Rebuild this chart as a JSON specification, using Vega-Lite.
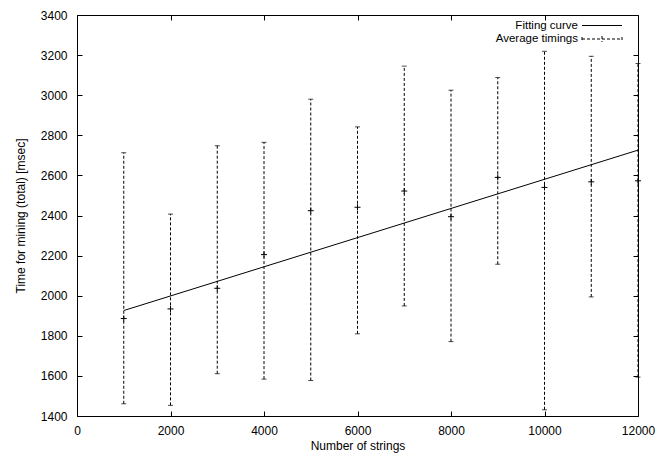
{
  "$schema": "https://vega.github.io/schema/vega-lite/v6.json",
  "width": 561,
  "height": 401,
  "autosize": "none",
  "padding": {"left": 77, "top": 15, "right": 18, "bottom": 41},
  "background": "white",
  "config": {
    "view": {"stroke": "black", "strokeWidth": 1},
    "font": "Liberation Sans",
    "axis": {
      "grid": false,
      "domain": false,
      "labelFlush": false,
      "tickColor": "black",
      "tickSize": -5,
      "tickWidth": 1,
      "labelColor": "black",
      "labelFontSize": 12,
      "labelFont": "Liberation Sans",
      "titleFontSize": 12,
      "titleFontWeight": "normal",
      "titleColor": "black",
      "titleFont": "Liberation Sans"
    },
    "legend": {
      "orient": "none",
      "labelAlign": "right",
      "labelOffset": -44.5,
      "symbolSize": 1600,
      "symbolStrokeWidth": 1,
      "symbolStrokeColor": "black",
      "labelFontSize": 11.5,
      "labelFont": "Liberation Sans",
      "labelColor": "black",
      "padding": 0
    }
  },
  "datasets": {
    "timings": [
      {"n": 1000, "lo": 1461, "mean": 1886, "hi": 2713, "series": "Average timings"},
      {"n": 2000, "lo": 1453, "mean": 1934, "hi": 2407, "series": "Average timings"},
      {"n": 3000, "lo": 1611, "mean": 2037, "hi": 2748, "series": "Average timings"},
      {"n": 4000, "lo": 1584, "mean": 2205, "hi": 2765, "series": "Average timings"},
      {"n": 5000, "lo": 1577, "mean": 2424, "hi": 2980, "series": "Average timings"},
      {"n": 6000, "lo": 1810, "mean": 2441, "hi": 2842, "series": "Average timings"},
      {"n": 7000, "lo": 1949, "mean": 2522, "hi": 3145, "series": "Average timings"},
      {"n": 8000, "lo": 1771, "mean": 2394, "hi": 3025, "series": "Average timings"},
      {"n": 9000, "lo": 2157, "mean": 2590, "hi": 3088, "series": "Average timings"},
      {"n": 10000, "lo": 1431, "mean": 2540, "hi": 3219, "series": "Average timings"},
      {"n": 11000, "lo": 1994, "mean": 2568, "hi": 3194, "series": "Average timings"},
      {"n": 12000, "lo": 1594, "mean": 2573, "hi": 3158, "series": "Average timings"}
    ],
    "fit": [
      {"n": 1000, "t": 1926, "curve": "Fitting curve"},
      {"n": 12000, "t": 2726, "curve": "Fitting curve"}
    ]
  },
  "layer": [
    {
      "data": {"name": "timings"},
      "mark": {"type": "rule", "strokeWidth": 1, "color": "black"},
      "encoding": {
        "x": {
          "field": "n", "type": "quantitative",
          "scale": {"domain": [0, 12000], "nice": false, "zero": false},
          "axis": {"orient": "bottom", "values": [0, 2000, 4000, 6000, 8000, 10000, 12000], "format": "d", "title": "Number of strings", "labelPadding": 14, "titlePadding": 4}
        },
        "y": {
          "field": "lo", "type": "quantitative",
          "scale": {"domain": [1400, 3400], "nice": false, "zero": false},
          "axis": {"orient": "left", "values": [1400, 1600, 1800, 2000, 2200, 2400, 2600, 2800, 3000, 3200, 3400], "format": "d", "title": "Time for mining (total) [msec]", "labelPadding": 15, "titlePadding": 13}
        },
        "y2": {"field": "hi"},
        "strokeDash": {
          "field": "series", "type": "nominal",
          "scale": {"domain": ["Average timings"], "range": [[3, 2]]},
          "legend": {
            "title": null,
            "legendX": 504.5,
            "legendY": 3.5,
            "encode": {
              "symbols": {
                "update": {
                  "shape": {"value": "M-1,0H1M0,-0.15V0.15M-1,-0.1V0.1M1,-0.1V0.1"},
                  "stroke": {"value": "black"}
                }
              }
            }
          }
        }
      }
    },
    {
      "data": {"name": "fit"},
      "mark": {"type": "line", "strokeWidth": 1},
      "encoding": {
        "x": {"field": "n", "type": "quantitative", "axis": {"orient": "top", "labels": false, "title": null, "values": [0, 2000, 4000, 6000, 8000, 10000, 12000]}},
        "y": {"field": "t", "type": "quantitative", "axis": {"orient": "right", "labels": false, "title": null, "values": [1400, 1600, 1800, 2000, 2200, 2400, 2600, 2800, 3000, 3200, 3400]}},
        "color": {
          "field": "curve", "type": "nominal",
          "scale": {"domain": ["Fitting curve"], "range": ["black"]},
          "legend": {
            "title": null,
            "legendX": 504.5,
            "legendY": -10,
            "encode": {
              "symbols": {
                "update": {
                  "shape": {"value": "M-1,0H1"},
                  "stroke": {"value": "black"}
                }
              }
            }
          }
        }
      }
    },
    {
      "data": {"name": "timings"},
      "mark": {"type": "tick", "orient": "horizontal", "size": 5, "thickness": 1, "color": "black"},
      "encoding": {
        "x": {"field": "n", "type": "quantitative", "axis": null},
        "y": {"field": "lo", "type": "quantitative", "axis": null}
      }
    },
    {
      "data": {"name": "timings"},
      "mark": {"type": "tick", "orient": "horizontal", "size": 5, "thickness": 1, "color": "black"},
      "encoding": {
        "x": {"field": "n", "type": "quantitative", "axis": null},
        "y": {"field": "hi", "type": "quantitative", "axis": null}
      }
    },
    {
      "data": {"name": "timings"},
      "mark": {"type": "point", "shape": "M-1,0H1M0,-1V1", "size": 36, "filled": false, "stroke": "black", "strokeWidth": 1, "opacity": 1},
      "encoding": {
        "x": {"field": "n", "type": "quantitative", "axis": null},
        "y": {"field": "mean", "type": "quantitative", "axis": null}
      }
    }
  ],
  "resolve": {"axis": {"x": "independent", "y": "independent"}}
}
